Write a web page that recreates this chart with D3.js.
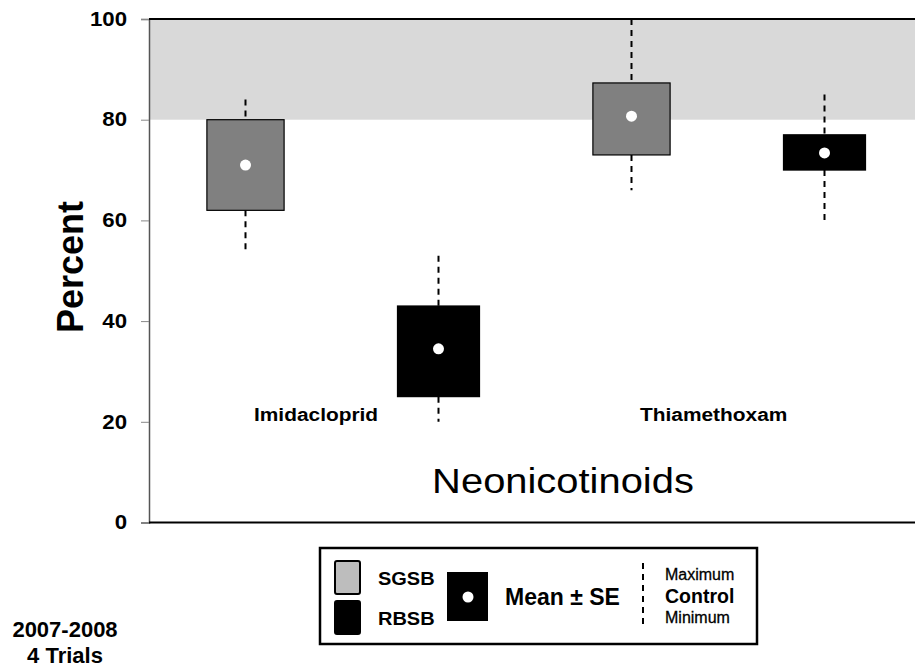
<!DOCTYPE html>
<html>
<head>
<meta charset="utf-8">
<script src="https://cdn.jsdelivr.net/npm/d3@7"></script>
<style>
  html, body { margin: 0; padding: 0; background: #fff; }
  svg { display: block; }
</style>
</head>
<body>
<svg id="chart" width="915" height="668"></svg>
<script>
// ---- data ----
const categories = ["Imidacloprid", "Thiamethoxam"];
const series = ["SGSB", "RBSB"];
const meanValues = { SGSB: [71, 80.7], RBSB: [34.5, 73.4] };
const seLow      = { SGSB: [62, 73],   RBSB: [25, 70] };
const seHigh     = { SGSB: [80, 87.3], RBSB: [43, 77] };
const maxValues  = { SGSB: [84, 100],  RBSB: [53, 85] };
const minValues  = { SGSB: [53.5, 66], RBSB: [20, 60] };
const controlRange = [80, 100];
const yTicks = [0, 20, 40, 60, 80, 100];
const xTitle = "Neonicotinoids";
const yTitle = "Percent";
const noteLines = ["2007-2008", "4 Trials"];

// ---- layout ----
const svg = d3.select("#chart");
const plotLeft = 149, plotRight = 921, plotTop = 19, plotBottom = 522.5;

const y = d3.scaleLinear().domain([0, 100]).range([plotBottom, plotTop]);
const keys = [];
categories.forEach((c, ci) => series.forEach(s => keys.push({ c, ci, s, key: c + "|" + s })));
const x = d3.scalePoint().domain(keys.map(k => k.key)).range([plotLeft, plotRight]).padding(0.5);
const xGroup = d3.scaleBand().domain(categories).range([plotLeft, plotRight]);
const step = x.step();

const boxFill = { SGSB: "#808080", RBSB: "#000000" };
const boxW = { SGSB: step * 0.40, RBSB: step * 0.425 };

const LB = "'Liberation Sans', Arial, sans-serif";

// horizontally widen text (reference plot text is stretched)
function stretch(sel, f) {
  sel.each(function () {
    const w = this.getComputedTextLength();
    d3.select(this).attr("textLength", w * f).attr("lengthAdjust", "spacingAndGlyphs");
  });
}

// control band
svg.append("rect")
  .attr("x", plotLeft).attr("width", 915 - plotLeft)
  .attr("y", y(controlRange[1])).attr("height", y(controlRange[0]) - y(controlRange[1]))
  .attr("fill", "#d9d9d9");

// axes lines
const yAxis = d3.axisLeft(y).tickValues(yTicks).tickSize(8).tickPadding(14);
const gy = svg.append("g").attr("transform", `translate(${plotLeft},0)`).call(yAxis);
gy.select(".domain").attr("stroke", "#555").attr("stroke-width", 1.5);
gy.selectAll(".tick line").attr("stroke", "#888").attr("stroke-width", 1);
gy.selectAll(".tick text")
  .attr("font-family", LB).attr("font-weight", "bold").attr("font-size", 19.5)
  .attr("fill", "#000").call(stretch, 1.14);

svg.append("line").attr("x1", plotLeft).attr("x2", 915).attr("y1", y(100)).attr("y2", y(100))
  .attr("stroke", "#000").attr("stroke-width", 2);
svg.append("line").attr("x1", plotLeft).attr("x2", 915).attr("y1", y(0)).attr("y2", y(0))
  .attr("stroke", "#000").attr("stroke-width", 2);

// whiskers
const g = svg.append("g");
keys.forEach(k => {
  const cx = x(k.key);
  g.append("line").attr("x1", cx).attr("x2", cx)
    .attr("y1", y(maxValues[k.s][k.ci])).attr("y2", y(seHigh[k.s][k.ci]))
    .attr("stroke", "#000").attr("stroke-width", 2).attr("stroke-dasharray", "6,5");
  g.append("line").attr("x1", cx).attr("x2", cx)
    .attr("y1", y(seLow[k.s][k.ci])).attr("y2", y(minValues[k.s][k.ci]))
    .attr("stroke", "#000").attr("stroke-width", 2).attr("stroke-dasharray", "6,5");
});
// boxes
keys.forEach(k => {
  const cx = x(k.key), w = boxW[k.s];
  g.append("rect")
    .attr("x", cx - w / 2).attr("width", w)
    .attr("y", y(seHigh[k.s][k.ci])).attr("height", y(seLow[k.s][k.ci]) - y(seHigh[k.s][k.ci]))
    .attr("fill", boxFill[k.s]).attr("stroke", "#000").attr("stroke-width", 1.2);
  g.append("circle").attr("cx", cx).attr("cy", y(meanValues[k.s][k.ci])).attr("r", 5.5)
    .attr("fill", "#fff");
});

// category labels
categories.forEach(c => {
  svg.append("text")
    .attr("x", xGroup(c) + xGroup.bandwidth() * 0.272)
    .attr("y", 421)
    .attr("font-family", LB).attr("font-weight", "bold").attr("font-size", 18)
    .attr("fill", "#000")
    .text(c).call(stretch, 1.16);
});

// axis titles
svg.append("text")
  .attr("x", 563).attr("y", 493).attr("text-anchor", "middle")
  .attr("font-family", LB).attr("font-size", 35).attr("fill", "#000")
  .text(xTitle).call(stretch, 1.14);
svg.append("text")
  .attr("transform", "translate(83,267) rotate(-90)").attr("text-anchor", "middle")
  .attr("font-family", LB).attr("font-weight", "bold").attr("font-size", 36).attr("fill", "#000")
  .text(yTitle);

// note
noteLines.forEach((t, i) => {
  svg.append("text").attr("x", 65).attr("y", 637 + i * 26).attr("text-anchor", "middle")
    .attr("font-family", LB).attr("font-weight", "bold").attr("font-size", 22).attr("fill", "#000")
    .text(t);
});

// legend
const lg = svg.append("g");
lg.append("rect").attr("x", 320).attr("y", 548).attr("width", 437).attr("height", 96)
  .attr("fill", "#fff").attr("stroke", "#000").attr("stroke-width", 2.5);
const swatchFill = { SGSB: "#bdbdbd", RBSB: "#000000" };
series.forEach((s, i) => {
  lg.append("rect").attr("x", 335).attr("y", 561 + i * 40).attr("width", 25).attr("height", 33)
    .attr("rx", 2).attr("fill", swatchFill[s]).attr("stroke", "#000").attr("stroke-width", 2);
  lg.append("text").attr("x", 378).attr("y", 585 + i * 40)
    .attr("font-family", LB).attr("font-weight", "bold").attr("font-size", 18.5).attr("fill", "#000")
    .text(s).call(stretch, 1.08);
});
lg.append("rect").attr("x", 447).attr("y", 572).attr("width", 41).attr("height", 49).attr("fill", "#000");
lg.append("circle").attr("cx", 468).attr("cy", 597).attr("r", 5.5).attr("fill", "#fff");
lg.append("text").attr("x", 505).attr("y", 605)
  .attr("font-family", LB).attr("font-weight", "bold").attr("font-size", 23).attr("fill", "#000")
  .text("Mean ± SE");
lg.append("line").attr("x1", 643).attr("x2", 643).attr("y1", 563).attr("y2", 628)
  .attr("stroke", "#000").attr("stroke-width", 2).attr("stroke-dasharray", "6,5");
lg.append("text").attr("x", 665).attr("y", 580)
  .attr("font-family", LB).attr("font-size", 16).attr("fill", "#000")
  .attr("stroke", "#000").attr("stroke-width", 0.3).text("Maximum");
lg.append("text").attr("x", 665).attr("y", 603)
  .attr("font-family", LB).attr("font-weight", "bold").attr("font-size", 19.5).attr("fill", "#000").text("Control");
lg.append("text").attr("x", 665).attr("y", 623)
  .attr("font-family", LB).attr("font-size", 16).attr("fill", "#000")
  .attr("stroke", "#000").attr("stroke-width", 0.3).text("Minimum");
</script>
</body>
</html>
